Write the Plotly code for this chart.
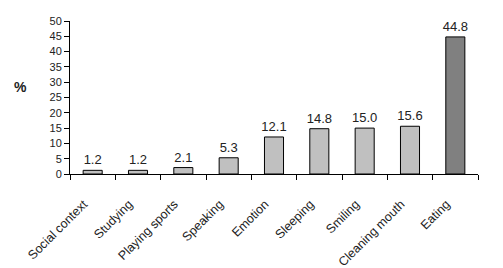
import plotly.graph_objects as go

categories = ["Social context", "Studying", "Playing sports", "Speaking", "Emotion",
              "Sleeping", "Smiling", "Cleaning mouth", "Eating"]
values = [1.2, 1.2, 2.1, 5.3, 12.1, 14.8, 15.0, 15.6, 44.8]
labels = ["1.2", "1.2", "2.1", "5.3", "12.1", "14.8", "15.0", "15.6", "44.8"]
colors = ["#c0c0c0"] * 8 + ["#808080"]

fig = go.Figure(go.Bar(
    x=categories, y=values, text=labels, textposition="outside",
    textfont=dict(family="Liberation Sans, Arial", size=13, color="#222"),
    marker=dict(color=colors, line=dict(color="#000", width=1)),
    width=0.42, cliponaxis=False,
))

fig.update_layout(
    width=503, height=268, margin=dict(l=70, r=25, t=21, b=94),
    paper_bgcolor="white", plot_bgcolor="white", showlegend=False,
    uniformtext=dict(minsize=13, mode="show"),
    font=dict(family="Liberation Sans, Arial", color="#222", size=11),
    xaxis=dict(showline=True, linecolor="#000", linewidth=1, ticks="outside",
               tickson="boundaries", ticklen=5, tickcolor="#000", tickangle=-45,
               tickfont=dict(size=12.5), showgrid=False, automargin=False,
               ticklabelstandoff=17, ticklabelshift=-9),
    yaxis=dict(range=[0, 50], dtick=5, showline=True, linecolor="#000", linewidth=1,
               ticks="outside", ticklen=5, tickcolor="#000", showgrid=False,
               zeroline=False, tickfont=dict(size=11), automargin=False),
    annotations=[dict(text="<b>%</b>", xref="x domain", yref="y domain",
                      x=-50/408, y=(174-87)/153, xanchor="center", yanchor="middle",
                      showarrow=False, font=dict(size=14))],
)
fig.write_html("out.html", config={"displayModeBar": False},
               post_script="document.body.style.margin='0';")
